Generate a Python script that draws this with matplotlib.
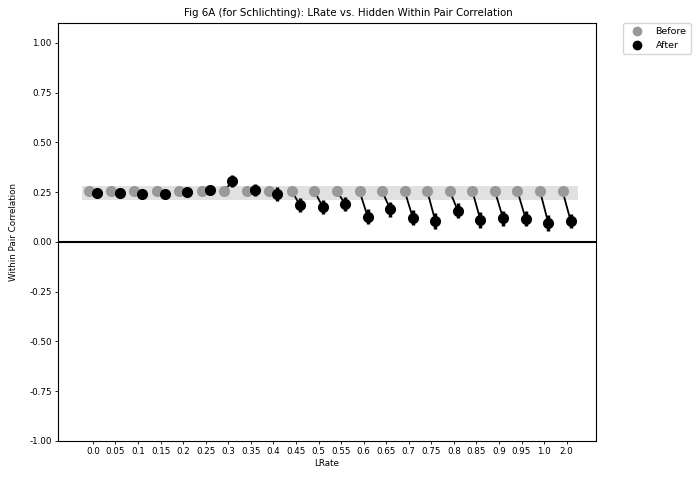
import matplotlib
matplotlib.use("Agg")
import matplotlib.pyplot as plt
from matplotlib.lines import Line2D
import numpy as np

tick_labels = ["0.0", "0.05", "0.1", "0.15", "0.2", "0.25", "0.3", "0.35", "0.4", "0.45",
               "0.5", "0.55", "0.6", "0.65", "0.7", "0.75", "0.8", "0.85", "0.9", "0.95",
               "1.0", "2.0"]
n_cat = len(tick_labels)
before_vals = [0.255] * n_cat
before_err = [0.004] * n_cat
after_vals = [0.248, 0.245, 0.240, 0.240, 0.251, 0.263, 0.307, 0.260, 0.240, 0.184,
              0.177, 0.190, 0.126, 0.164, 0.122, 0.105, 0.156, 0.110, 0.119, 0.117,
              0.097, 0.105]
after_err = [0.005, 0.005, 0.005, 0.005, 0.005, 0.006, 0.030, 0.030, 0.035, 0.035,
             0.035, 0.035, 0.038, 0.038, 0.038, 0.040, 0.038, 0.040, 0.038, 0.038,
             0.040, 0.035]
band_low, band_high = 0.212, 0.282

fig = plt.figure(figsize=(6.96, 4.86), dpi=100)
ax = fig.add_axes([0.0833, 0.0926, 0.7730, 0.8601])

x = np.arange(n_cat)
off = 0.18
grey = "#999999"

ax.fill_between([-0.5, n_cat - 0.5], band_low, band_high, color="#e1e1e1", zorder=0, linewidth=0)
ax.axhline(0, color="black", linewidth=1.5, zorder=1)

for i in range(n_cat):
    ax.plot([x[i] - off, x[i] + off], [before_vals[i], after_vals[i]], color="black",
            linewidth=1.3, zorder=2)

ax.errorbar(x - off, before_vals, yerr=before_err, fmt="o", color=grey, markersize=7,
            elinewidth=2.5, capsize=0, zorder=3, label="Before")
ax.errorbar(x + off, after_vals, yerr=after_err, fmt="o", color="black", markersize=7,
            elinewidth=2.5, capsize=0, zorder=4, label="After")

ax.set_xlim(-1.55, 22.3)
ax.set_ylim(-1.0, 1.1)
ax.set_xticks(x)
ax.set_xticklabels(tick_labels, fontsize=6.3)
yt = [-1.0, -0.75, -0.5, -0.25, 0.0, 0.25, 0.5, 0.75, 1.0]
ax.set_yticks(yt)
ax.set_yticklabels([f"{v:.2f}" for v in yt], fontsize=6.3)
ax.tick_params(length=2.5, width=0.6, pad=2)
ax.set_xlabel("LRate", fontsize=6.3, labelpad=2)
ax.set_ylabel("Within Pair Correlation", fontsize=6.3, labelpad=8)
fig.text(0.5, 1 - 13 / 486, "Fig 6A (for Schlichting): LRate vs. Hidden Within Pair Correlation",
         fontsize=7.4, ha="center", va="center")
for s in ax.spines.values():
    s.set_linewidth(0.8)

handles = [Line2D([], [], marker="o", color=grey, linestyle="none", markersize=6),
           Line2D([], [], marker="o", color="black", linestyle="none", markersize=6)]
ax.legend(handles, ["Before", "After"], bbox_to_anchor=(1.05, 1), loc=2, borderaxespad=0,
          fontsize=6.8, handletextpad=1.0, borderpad=0.45)

fig.savefig("out.png", dpi=100)
